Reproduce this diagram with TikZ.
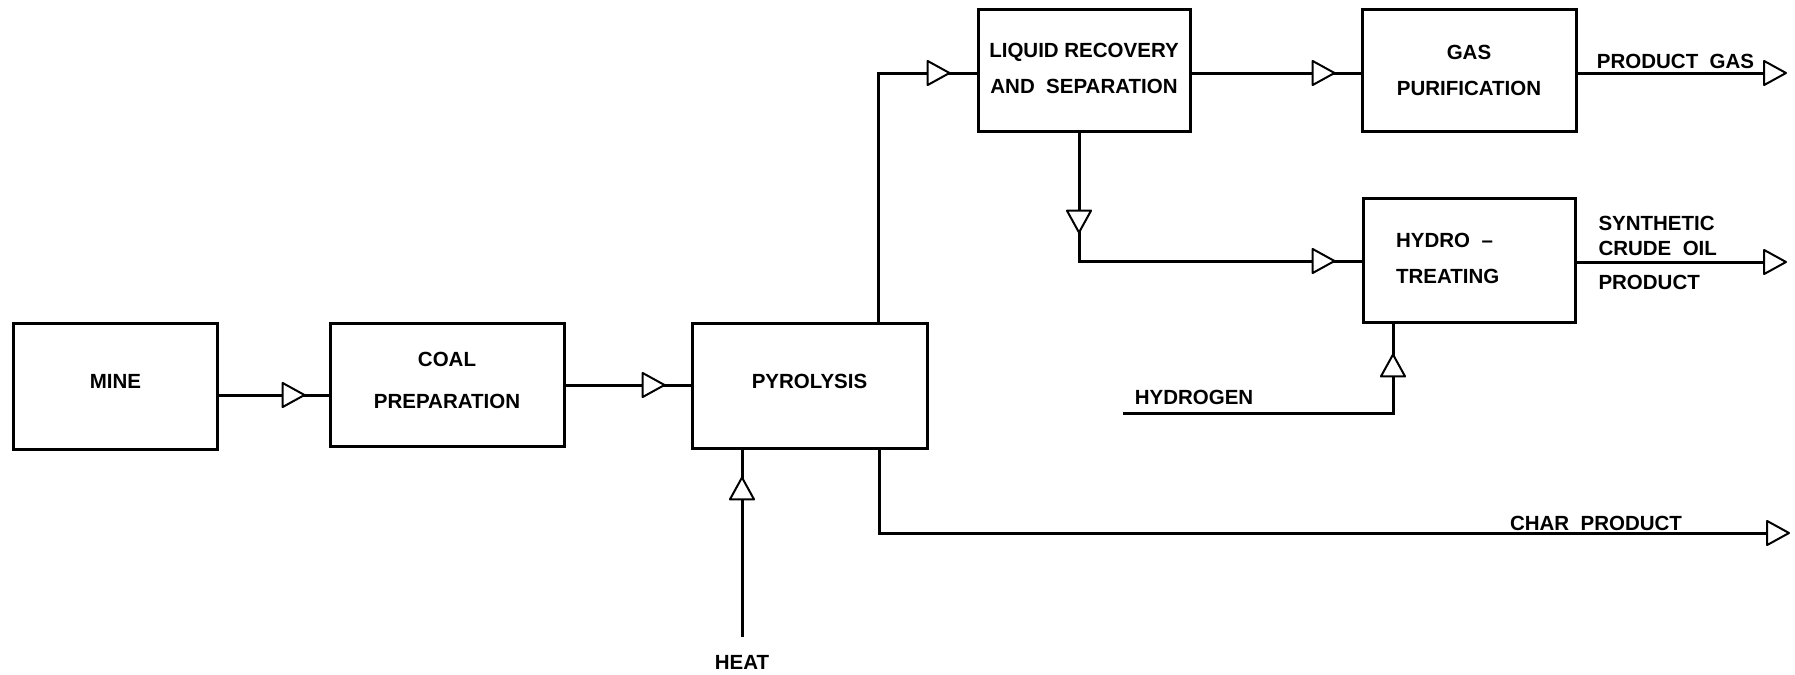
\documentclass[tikz,border=0pt]{standalone}
\usepackage{fontspec}
\newfontfamily\lab{Liberation Sans}
\usetikzlibrary{arrows.meta,decorations.markings}
\tikzset{
  ftri/.tip={Triangle[length=10pt,width=10.8pt,fill=white,line width=0.8pt,round]},
  box/.style={draw,line width=1.2pt,inner sep=0pt,align=center,
    font=\lab\bfseries\fontsize{8.2}{14.4}\selectfont},
  lbl/.style={inner sep=0pt,align=left,font=\lab\bfseries\fontsize{8.2}{10}\selectfont},
  flow/.style={line width=1.2pt},
  tipat/.style={postaction={decorate,decoration={markings,mark=at position #1 with {\arrow{ftri}}}}}
}
\begin{document}
\begin{tikzpicture}[x=0.4pt,y=-0.4pt]
\useasboundingbox (0,0) rectangle (1795,674);
% boxes
\node[box,minimum width=81.2pt,minimum height=50.4pt,text depth=3.7pt] (mine) at (115.5,386) {MINE};
\node[box,minimum width=93.6pt,minimum height=49.2pt,text depth=3.7pt,font=\lab\bfseries\fontsize{8.2}{16.8}\selectfont] (coal) at (447,384.5) {COAL\\PREPARATION};
\node[box,minimum width=94pt,minimum height=50pt,text depth=3.7pt] (pyro) at (809.5,385.5) {PYROLYSIS};
\node[box,minimum width=84.8pt,minimum height=48.8pt,text depth=1.2pt] (liq) at (1084,70) {LIQUID RECOVERY\\AND\ \ SEPARATION};
\node[box,minimum width=85.6pt,minimum height=48.8pt] (gas) at (1469,70) {GAS\\PURIFICATION};
\node[box,minimum width=84.8pt,minimum height=49.6pt,align=left,text depth=1pt] (hyd) at (1469,260) {HYDRO\ \ –\\TREATING\hspace*{17pt}};
% coordinates
\coordinate (r1) at (300,395);
\coordinate (r2) at (650,385);
\coordinate (k1) at (878,73);
\coordinate (r3) at (1250,73);
\coordinate (k2) at (1079,261);
\coordinate (pg) at (1787,73);
\coordinate (so) at (1787,262);
\coordinate (h0) at (1123,413);
\coordinate (k3) at (1393,413);
\coordinate (k4) at (879,533);
\coordinate (ce) at (1790,533);
\coordinate (he) at (742,637);
% connectors
\draw[flow,tipat=-9.2pt] (mine.east |- r1) -- (coal.west |- r1);
\draw[flow,tipat=-10pt] (coal.east |- r2) -- (pyro.west |- r2);
\draw[flow,tipat=-10.4pt] (pyro.north -| k1) -- (k1) -- (liq.west |- k1);
\draw[flow,tipat=-10pt] (liq.east |- r3) -- (gas.west |- r3);
\draw[flow,-{ftri}] (gas.east |- pg) -- (pg);
\draw[flow,tipat=40.4pt,tipat=-10.4pt] (liq.south -| k2) -- (k2) -- (hyd.west |- k2);
\draw[flow,-{ftri}] (hyd.east |- so) -- (so);
\draw[flow,tipat=-12pt] (h0) -- (k3) -- (hyd.south -| k3);
\draw[flow,-{ftri}] (pyro.south -| k4) -- (k4) -- (ce);
\draw[flow,tipat=-10.8pt] (he) -- (pyro.south -| he);
% labels
\node[lbl] (lpg) at (1675.5,61) {PRODUCT\ \ GAS};
\node[lbl,anchor=west] (lsy) at (1598,223) {SYNTHETIC};
\node[lbl,anchor=west] (lcr) at (1598,248) {CRUDE\ \ OIL};
\node[lbl,anchor=west] (lpr) at (1598,282) {PRODUCT};
\node[lbl] (lch) at (1596,523) {CHAR\ \ PRODUCT};
\node[lbl] (lhy) at (1194,397) {HYDROGEN};
\node[lbl] (lhe) at (742,662) {HEAT};
\end{tikzpicture}
\end{document}
